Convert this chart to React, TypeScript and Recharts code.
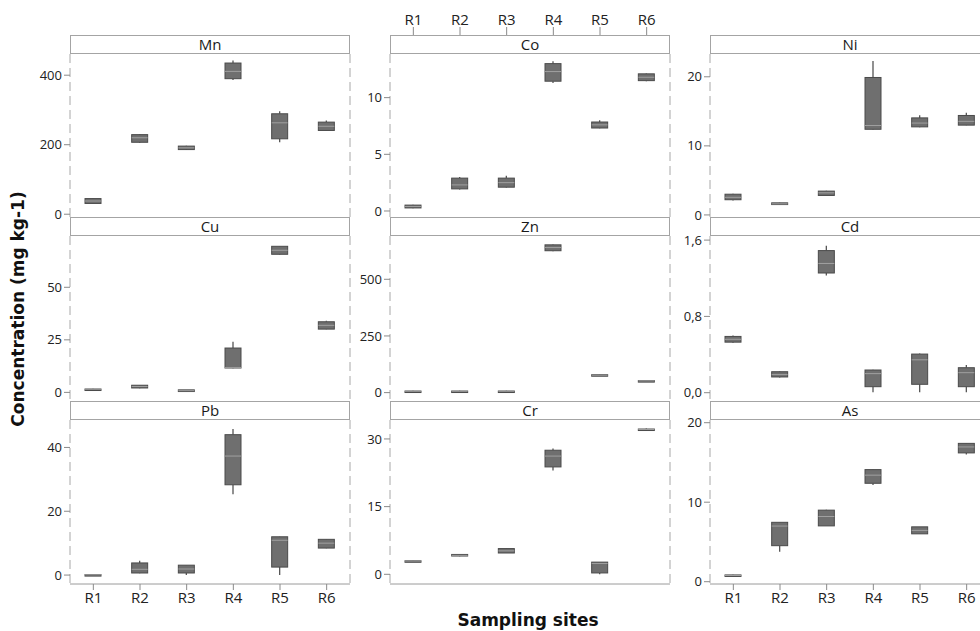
import { ComposedChart, Bar, XAxis, YAxis } from 'recharts';

const SITES = ['R1', 'R2', 'R3', 'R4', 'R5', 'R6'];

// each site: [min, q1, median, q3, max]
const MN = [[30, 31, 38, 45, 46], [205, 207, 220, 229, 230], [185, 186, 191, 196, 197], [386, 390, 411, 435, 442], [207, 217, 263, 289, 296], [240, 241, 253, 265, 270]];
const CO = [[0.25, 0.27, 0.4, 0.52, 0.55], [1.9, 1.95, 2.3, 2.9, 3.0], [2.05, 2.1, 2.5, 2.9, 3.1], [11.3, 11.45, 12.3, 13.0, 13.2], [7.3, 7.32, 7.6, 7.85, 8.0], [11.45, 11.5, 11.8, 12.1, 12.15]];
const NI = [[2.1, 2.2, 2.55, 3.0, 3.05], [1.45, 1.5, 1.6, 1.75, 1.8], [2.8, 2.82, 3.2, 3.45, 3.5], [12.35, 12.4, 12.95, 19.9, 22.3], [12.7, 12.75, 13.3, 14.05, 14.45], [12.95, 13.0, 13.55, 14.4, 14.8]];
const CU = [[1.3, 1.4, 1.5, 1.6, 1.7], [2.0, 2.1, 2.8, 3.4, 3.5], [0.3, 0.4, 0.8, 1.2, 1.3], [11.5, 11.6, 11.8, 21.1, 24.1], [65.5, 65.7, 67.6, 69.5, 69.7], [30.0, 30.1, 31.9, 33.6, 34.1]];
const ZN = [[4, 5, 6, 7, 8], [4, 5, 6, 7, 8], [4, 5, 6, 7, 8], [624, 626, 640, 652, 655], [74, 75, 77, 79, 80], [49, 50, 52, 53, 54]];
const CD = [[0.52, 0.53, 0.56, 0.59, 0.6], [0.16, 0.165, 0.19, 0.22, 0.225], [1.23, 1.255, 1.355, 1.49, 1.54], [0.005, 0.063, 0.2, 0.238, 0.24], [0.005, 0.088, 0.345, 0.405, 0.41], [0.005, 0.063, 0.21, 0.262, 0.29]];
const PB = [[0, 0.05, 0.1, 0.15, 0.2], [0.6, 0.65, 1.8, 3.8, 4.5], [0, 0.65, 1.9, 3.1, 3.15], [25.3, 28.3, 37.3, 44, 45.8], [0, 2.5, 10.9, 12, 12.1], [8.4, 8.46, 10, 11.2, 11.3]];
const CR = [[2.8, 2.85, 2.95, 3.0, 3.05], [4.0, 4.05, 4.2, 4.4, 4.45], [4.7, 4.72, 5.2, 5.7, 5.75], [23, 23.8, 26.2, 27.5, 27.9], [0, 0.3, 2.4, 2.7, 2.75], [31.9, 32.0, 32.1, 32.2, 32.3]];
const AS = [[0.7, 0.72, 0.78, 0.85, 0.88], [3.77, 4.53, 7.0, 7.47, 7.5], [7.0, 7.02, 8.2, 9.0, 9.05], [12.15, 12.38, 13.4, 14.1, 14.15], [6.0, 6.02, 6.45, 6.9, 6.92], [16.0, 16.2, 16.95, 17.4, 17.45]];

const MN_TICKS = [0, 200, 400];
const CO_TICKS = [0, 5, 10];
const NI_TICKS = [0, 10, 20];
const CU_TICKS = [0, 25, 50];
const ZN_TICKS = [0, 250, 500];
const CD_TICKS = [0, 0.8, 1.6];
const PB_TICKS = [0, 20, 40];
const CR_TICKS = [0, 15, 30];
const AS_TICKS = [0, 10, 20];

type Panel = { name: string; stats: number[][]; domain: [number, number]; ticks: number[]; comma?: boolean };

const PANELS: Panel[][] = [
  [
    { name: 'Mn', stats: MN, domain: [-8, 461], ticks: MN_TICKS },
    { name: 'Co', stats: CO, domain: [-0.53, 13.85], ticks: CO_TICKS },
    { name: 'Ni', stats: NI, domain: [-0.3, 23.3], ticks: NI_TICKS },
  ],
  [
    { name: 'Cu', stats: CU, domain: [-4.1, 74.4], ticks: CU_TICKS },
    { name: 'Zn', stats: ZN, domain: [-37, 691], ticks: ZN_TICKS },
    { name: 'Cd', stats: CD, domain: [-0.087, 1.643], ticks: CD_TICKS, comma: true },
  ],
  [
    { name: 'Pb', stats: PB, domain: [-2.8, 48.6], ticks: PB_TICKS },
    { name: 'Cr', stats: CR, domain: [-2.15, 34.2], ticks: CR_TICKS },
    { name: 'As', stats: AS, domain: [-0.29, 20.34], ticks: AS_TICKS },
  ],
];

const COL_LEFT = [70, 390, 710];
const ROW_TOP = [54, 236, 420];
const ROW_BOTTOM = [217, 401, 584];
const PLOT_W = 280;
const STRIP_H = 19;
const AXIS_W = 50;
const FONT = '"Open Sans", "Noto Sans", sans-serif';

function BoxShape(props: any) {
  const { x, y, width, height, payload } = props;
  const [min, q1, med, q3, max] = payload.stats;
  const k = height / (max - min);
  const py = (v: number) => y + (max - v) * k;
  const cx = x + width / 2;
  const top = py(q3);
  const h = Math.max(py(q1) - top, 1.5);
  return (
    <g>
      <line x1={cx} x2={cx} y1={py(max)} y2={top} stroke="#555" strokeWidth={1.3} />
      <line x1={cx} x2={cx} y1={py(q1)} y2={py(min)} stroke="#555" strokeWidth={1.3} />
      <rect x={x} y={top} width={width} height={h} fill="#6f6f6f" stroke="#4a4a4a" strokeWidth={1} />
      <line x1={x} x2={x + width} y1={py(med)} y2={py(med)} stroke="#a0a0a0" strokeWidth={1} />
    </g>
  );
}

function TopTick(props: any) {
  const { x, payload } = props;
  return (
    <g>
      <line x1={x} x2={x} y1={27} y2={35} stroke="#8a8a8a" />
      <text x={x} y={25} textAnchor="middle" fontSize={15} fill="#222" fontFamily={FONT}>
        {payload.value}
      </text>
    </g>
  );
}

function PanelChart({ panel, row, col }: { panel: Panel; row: number; col: number }) {
  const data = SITES.map((s, i) => ({ site: s, range: [panel.stats[i][0], panel.stats[i][4]], stats: panel.stats[i] }));
  const topAxis = row === 0 && col === 1;
  const bottomRow = row === 2;
  const plotH = ROW_BOTTOM[row] - ROW_TOP[row];
  const chartTop = topAxis ? 0 : ROW_TOP[row];
  const topH = topAxis ? ROW_TOP[0] : 0;
  const bottomH = bottomRow ? 32 : 0;
  const fmt = (v: number) => (panel.comma ? v.toFixed(1).replace('.', ',') : String(v));
  return (
    <div style={{ position: 'absolute', left: COL_LEFT[col] - AXIS_W, top: chartTop }}>
      <ComposedChart
        width={AXIS_W + PLOT_W + 10}
        height={topH + plotH + bottomH}
        data={data}
        margin={{ top: 0, right: 0, bottom: 0, left: 0 }}
      >
        {topAxis && (
          <XAxis
            xAxisId="top"
            dataKey="site"
            orientation="top"
            height={topH}
            axisLine={false}
            tickLine={false}
            tick={<TopTick />}
            interval={0}
          />
        )}
        {bottomRow ? (
          <XAxis
            dataKey="site"
            height={bottomH}
            axisLine={{ stroke: '#9a9a9a' }}
            tickLine={col === 1 ? false : { stroke: '#8a8a8a' }}
            tick={col === 1 ? false : { fontSize: 15, fill: '#222', fontFamily: FONT }}
            tickSize={6}
            tickMargin={2}
            interval={0}
          />
        ) : (
          <XAxis dataKey="site" hide />
        )}
        <YAxis
          type="number"
          domain={panel.domain}
          ticks={panel.ticks}
          interval={0}
          allowDataOverflow
          width={AXIS_W}
          axisLine={{ stroke: '#a8a8a8', strokeDasharray: '9 5' }}
          tickLine={{ stroke: '#8a8a8a' }}
          tickSize={6}
          tickMargin={2}
          tick={{ fontSize: 13, fill: '#222', fontFamily: FONT }}
          tickFormatter={fmt}
        />
        <YAxis
          yAxisId="right"
          orientation="right"
          type="number"
          domain={[0, 1]}
          width={10}
          tick={false}
          tickLine={false}
          axisLine={{ stroke: '#a8a8a8', strokeDasharray: '9 5' }}
        />
        <Bar dataKey="range" barSize={16} shape={<BoxShape />} isAnimationActive={false} />
      </ComposedChart>
    </div>
  );
}

export default function App() {
  return (
    <div
      style={{
        position: 'fixed',
        left: 0,
        top: 0,
        width: 980,
        height: 631,
        overflow: 'hidden',
        background: '#fff',
        fontFamily: FONT,
      }}
    >
      <style>{'svg.recharts-surface { overflow: visible; }'}</style>
      {PANELS.map((rowPanels, r) =>
        rowPanels.map((p, c) => <PanelChart key={p.name} panel={p} row={r} col={c} />)
      )}
      {PANELS.map((rowPanels, r) =>
        rowPanels.map((p, c) => (
          <div
            key={'strip-' + p.name}
            style={{
              position: 'absolute',
              left: COL_LEFT[c],
              top: ROW_TOP[r] - STRIP_H,
              width: PLOT_W,
              height: STRIP_H,
              boxSizing: 'border-box',
              border: '1px solid #a4a4a4',
              background: '#fff',
              fontSize: 15,
              lineHeight: '17px',
              textAlign: 'center',
              color: '#1a1a1a',
            }}
          >
            {p.name}
          </div>
        ))
      )}
      <div
        style={{
          position: 'absolute',
          left: 18,
          top: 309,
          transform: 'translate(-50%, -50%) rotate(-90deg)',
          whiteSpace: 'nowrap',
          fontFamily: '"DejaVu Sans", sans-serif',
          fontWeight: 'bold',
          fontSize: 17,
          color: '#111',
        }}
      >
        Concentration (mg kg-1)
      </div>
      <div
        style={{
          position: 'absolute',
          left: 528,
          top: 620,
          transform: 'translate(-50%, -50%)',
          whiteSpace: 'nowrap',
          fontFamily: '"DejaVu Sans", sans-serif',
          fontWeight: 'bold',
          fontSize: 17,
          color: '#111',
        }}
      >
        Sampling sites
      </div>
    </div>
  );
}
